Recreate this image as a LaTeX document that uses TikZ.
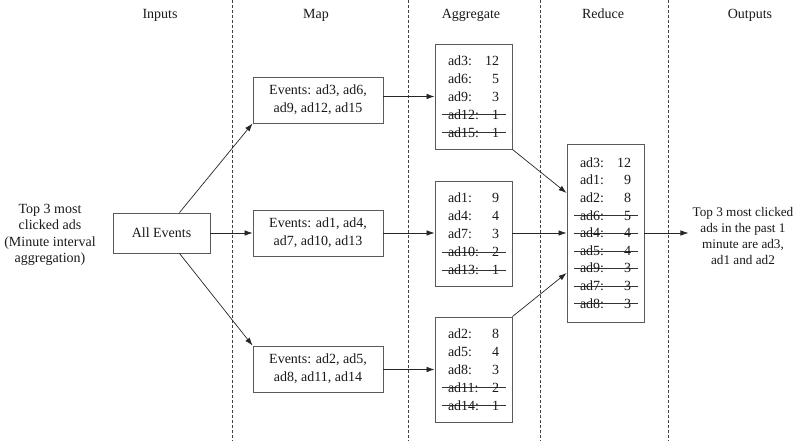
\documentclass[tikz,border=0pt]{standalone}
\usepackage{fontspec}
\setmainfont{Liberation Serif}
\usepackage{tikz}
\usetikzlibrary{arrows.meta}

% one line of a count list, and the same line struck out
\newlength\rowwd
\setlength\rowwd{51pt}
\newcommand\adrow[2]{\makebox[\rowwd]{#1\hfill#2}}
\newcommand\adcut[2]{\rlap{\hspace{-6pt}\color{black!80}\rule[4pt]{\dimexpr\rowwd+13pt\relax}{0.8pt}}\adrow{#1}{#2}}

\begin{document}
\begin{tikzpicture}[x=1pt, y=-1pt,
				      every node/.style = {font=\fontsize{14}{16.5}\selectfont, text=black!90},
				      box/.style = {shape=rectangle, draw=black!65, line width=0.9pt,
						      fill=white, align=center, inner sep=0pt,
						      minimum width=130pt, minimum height=46pt,
						      font=\fontsize{14}{18}\selectfont},
				      tally/.style = {shape=rectangle, draw=black!65, line width=0.9pt,
						      fill=white, align=left, inner sep=0pt,
						      minimum width=77pt, minimum height=105pt,
						      font=\fontsize{14}{18}\selectfont},
				      note/.style = {align=center, inner sep=4pt},
				      link/.style = {draw=black!85, line width=0.7pt,
						      -{Latex[length=8pt,width=5.5pt]}},
				      divide/.style = {draw=black!75, line width=0.8pt,
						      dash pattern=on 3pt off 2pt}
			      ]
			      \useasboundingbox (0,0) rectangle (809,441);

			      % stage borders and titles
			      \foreach \x in {232,408,540,668}
			      \draw[divide] (\x,0) -- (\x,441);
			      \foreach \x/\t in {160/Inputs, 316/Map, 471/Aggregate, 603/Reduce, 750/Outputs}
			      \node[anchor=base] (hd\x) at (\x,19) {\t};

			      % inputs
			      \node[note] (query) at (50,235) {Top 3 most\\clicked ads\\(Minute interval\\aggregation)};
			      \node[box, minimum width=97pt, minimum height=40pt] (all) at (161.5,233) {All Events};

			      % map
			      \node[box] (m1) at (318,100) {Events: ad3, ad6,\\ad9, ad12, ad15};
			      \node[box] (m2) at (318,233) {Events: ad1, ad4,\\ad7, ad10, ad13};
			      \node[box] (m3) at (318,369) {Events: ad2, ad5,\\ad8, ad11, ad14};

			      % aggregate
			      \node[tally] (a1) at (473.5,96.5) {\adrow{ad3:}{12}\\\adrow{ad6:}{5}\\\adrow{ad9:}{3}\\
					      \adcut{ad12:}{1}\\\adcut{ad15:}{1}};
			      \node[tally] (a2) at (473.5,234) {\adrow{ad1:}{9}\\\adrow{ad4:}{4}\\\adrow{ad7:}{3}\\
					      \adcut{ad10:}{2}\\\adcut{ad13:}{1}};
			      \node[tally] (a3) at (473.5,369.5) {\adrow{ad2:}{8}\\\adrow{ad5:}{4}\\\adrow{ad8:}{3}\\
					      \adcut{ad11:}{2}\\\adcut{ad14:}{1}};

			      % reduce
			      \node[tally, minimum height=178pt, font=\fontsize{14}{17.6}\selectfont] (red) at (605.5,233)
			      {\adrow{ad3:}{12}\\\adrow{ad1:}{9}\\\adrow{ad2:}{8}\\
					      \adcut{ad6:}{5}\\\adcut{ad4:}{4}\\\adcut{ad5:}{4}\\
					      \adcut{ad9:}{3}\\\adcut{ad7:}{3}\\\adcut{ad8:}{3}};

			      % outputs
			      \node[note, font=\fontsize{13.2}{16.2}\selectfont] (out) at (743,236)
			      {Top 3 most clicked\\ads in the past 1\\minute are ad3,\\ad1 and ad2};

			      % connectors
			      \draw[link] ([xshift=18pt]all.north) -- (m1.south west);
			      \draw[link] (all.east) -- (m2.west);
			      \draw[link] ([xshift=18pt]all.south) -- (m3.north west);
			      \draw[link] (m1.east |- a1.west) -- (a1.west);
			      \draw[link] (m2.east) -- (m2.east -| a2.west);
			      \draw[link] (m3.east |- a3.west) -- (a3.west);
			      \draw[link] (a1.south east) -- ([yshift=40pt]red.west);
			      \draw[link] (a2.east |- red.west) -- (red.west);
			      \draw[link] (a3.north east) -- ([yshift=-40pt]red.west);
			      \draw[link] (red.east) -- (red.east -| out.west);
		      \end{tikzpicture}
\end{document}
